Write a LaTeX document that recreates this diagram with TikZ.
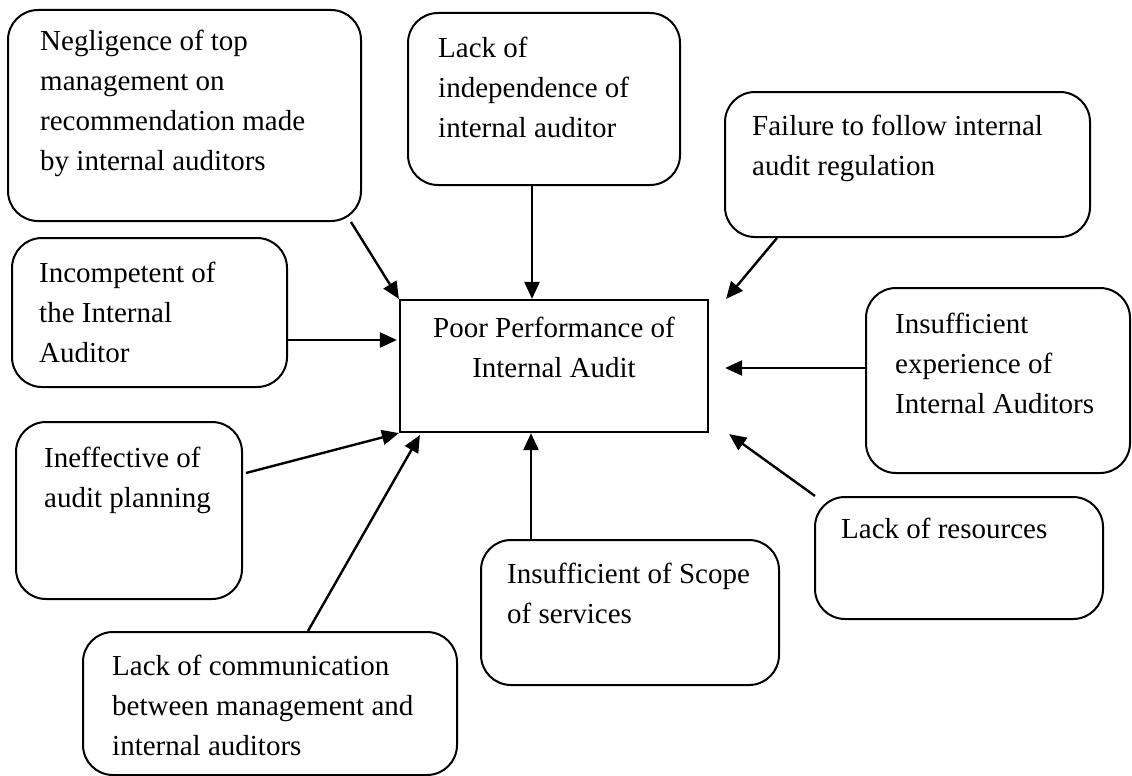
\documentclass[tikz,border=0pt]{standalone}
\usepackage{fontspec}
\setmainfont{Liberation Serif}
\usetikzlibrary{arrows.meta,calc}
\begin{document}
\begin{tikzpicture}[x=1pt,y=-1pt,
  cbox/.style={draw=black, line width=2pt, rounded corners=30pt, inner sep=0pt},
  pbox/.style={draw=black, line width=2.2pt, inner sep=0pt},
  txt/.style={font=\fontsize{29}{40}\selectfont, align=left, inner sep=0pt, anchor=north west},
  conn/.style={line width=2.4pt, -{Triangle[length=17pt,width=15pt]}}]
\useasboundingbox (0,0) rectangle (1132,776);
% boxes
\node[cbox, minimum width=353pt, minimum height=211pt] (neg) at (184.5,115.5) {};
\node[cbox, minimum width=272pt, minimum height=172pt] (ind) at (544,99) {};
\node[cbox, minimum width=365pt, minimum height=145pt] (fail) at (907.5,164.5) {};
\node[cbox, minimum width=275pt, minimum height=149pt] (inc) at (149.5,312.5) {};
\node[pbox, minimum width=308pt, minimum height=132pt] (poor) at (554,366) {};
\node[cbox, minimum width=264pt, minimum height=185pt] (exp) at (998,380.5) {};
\node[cbox, minimum width=226pt, minimum height=177pt] (ineff) at (129,510.5) {};
\node[cbox, minimum width=288pt, minimum height=122pt] (res) at (959,558) {};
\node[cbox, minimum width=298pt, minimum height=145pt] (scope) at (630,612.5) {};
\node[cbox, minimum width=374pt, minimum height=143pt] (comm) at (270,703.5) {};
% texts
\node[txt] (negT) at (40,28) {\rule{0pt}{22pt}Negligence of top\\management on\\recommendation made\\by internal auditors};
\node[txt] (indT) at (438,35) {\rule{0pt}{22pt}Lack of\\independence of\\internal auditor};
\node[txt] (failT) at (752,113) {\rule{0pt}{22pt}Failure to follow internal\\audit regulation};
\node[txt] (incT) at (39,260) {\rule{0pt}{22pt}Incompetent of\\the Internal\\Auditor};
\node[txt, align=center, anchor=north] (poorT) at (554,315) {\rule{0pt}{22pt}Poor Performance of\\Internal Audit};
\node[txt] (expT) at (895,311) {\rule{0pt}{22pt}Insufficient\\experience of\\Internal Auditors};
\node[txt] (ineffT) at (44,445) {\rule{0pt}{22pt}Ineffective of\\audit planning};
\node[txt] (resT) at (841,516) {\rule{0pt}{22pt}Lack of resources};
\node[txt] (scopeT) at (507,561) {\rule{0pt}{22pt}Insufficient of Scope\\of services};
\node[txt] (commT) at (112,653) {\rule{0pt}{22pt}Lack of communication\\between management and\\internal auditors};
% connectors
\draw[conn] ($(neg.south east)+(-11,0)$) -- (poor.north west);
\draw[conn] ($(ind.south)+(-12,0)$) -- ($(poor.north)+(-22,0)$);
\draw[conn] ($(fail.south west)+(53,0)$) -- ($(poor.north east)+(17,0)$);
\draw[conn] ($(inc.east)+(0,27.5)$) -- ($(poor.west)+(-2,-26)$);
\draw[conn] ($(exp.west)+(0,-12.5)$) -- ($(poor.east)+(16,2)$);
\draw[conn] ($(ineff.east)+(3,-37.5)$) -- (poor.south west);
\draw[conn] ($(comm.north)+(38,0)$) -- ($(poor.south west)+(21,2)$);
\draw[conn] ($(scope.north)+(-99,0)$) -- ($(poor.south)+(-23,0)$);
\draw[conn] ($(res.north west)+(1,0)$) -- ($(poor.south east)+(20,1)$);
\end{tikzpicture}
\end{document}
